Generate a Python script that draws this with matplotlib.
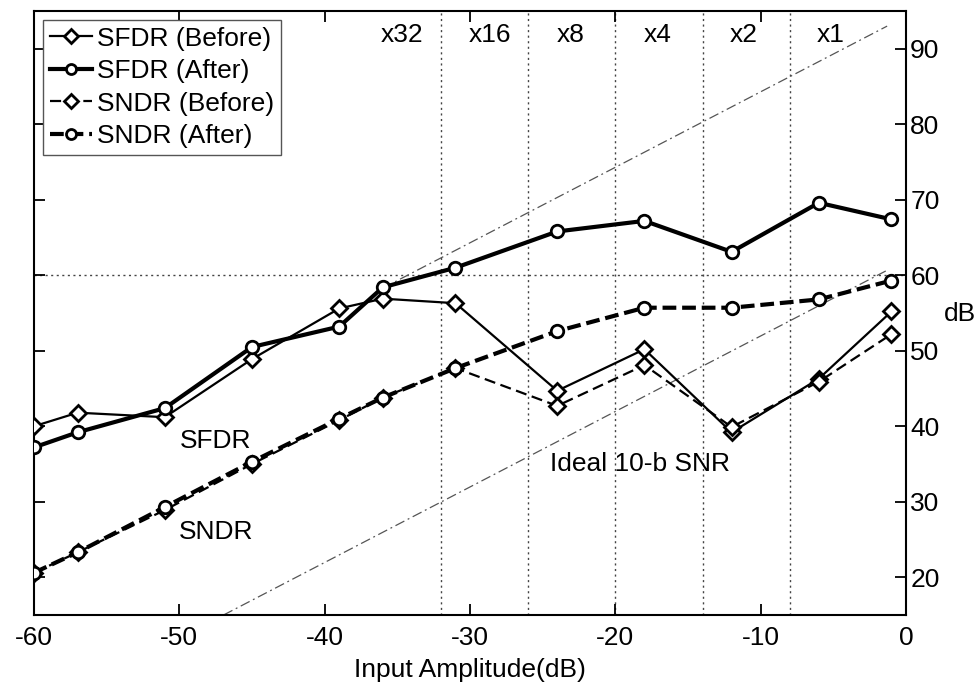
import matplotlib
matplotlib.use("Agg")
import matplotlib.pyplot as plt
import numpy as np

plt.rcParams['font.family'] = ['Liberation Sans', 'DejaVu Sans']
plt.rcParams['axes.unicode_minus'] = False

# Input amplitude sweep (dB)
amp = [-60, -57, -51, -45, -39, -36, -31, -24, -18, -12, -6, -1]

sfdr_before = [40.0, 41.8, 41.2, 48.9, 55.6, 56.9, 56.3, 44.7, 50.2, 39.2, 46.3, 55.2]
sfdr_after = [37.2, 39.2, 42.4, 50.5, 53.2, 58.4, 61.0, 65.8, 67.2, 63.1, 69.6, 67.4]
sndr_before = [20.6, 23.3, 28.9, 35.0, 40.8, 43.8, 47.7, 42.7, 48.1, 39.9, 45.9, 52.2]
sndr_after = [20.6, 23.3, 29.3, 35.3, 41.0, 43.8, 47.7, 52.6, 55.7, 55.7, 56.8, 59.3]

# Gain-range boundaries and labels
gain_edges = [-32, -26, -20, -14, -8]
gain_labels = ['x32', 'x16', 'x8', 'x4', 'x2', 'x1']
gain_label_x = [-34.7, -28.6, -23.1, -17.1, -11.2, -5.2]

# Reference lines: ideal 10-bit SNR (offset 61.96 dB) and upper bound
ideal_offset = 61.96
upper_offset = 94.3
ideal_x = [-46.96, -1.3]
upper_x = [-36.0, -1.3]

fig = plt.figure(figsize=(9.78, 6.88), dpi=100)
ax = fig.add_axes([0.0348, 0.1061, 0.9264 - 0.0348, 0.984 - 0.1061])

fs = 19

# guide lines
for gx in gain_edges:
    ax.axvline(gx, color='#444444', lw=1.0, ls=(0, (1.5, 2.5)), zorder=1)
ax.axhline(60, color='#444444', lw=1.0, ls=(0, (1.5, 2.5)), zorder=1)

ax.plot(ideal_x, [v + ideal_offset for v in ideal_x], color='#555555', lw=0.9,
        ls=(0, (8, 3, 1.5, 3)), zorder=1)
ax.plot(upper_x, [v + upper_offset for v in upper_x], color='#555555', lw=0.9,
        ls=(0, (8, 3, 1.5, 3)), zorder=1)

mk = dict(markerfacecolor='white', markeredgecolor='black', markeredgewidth=2.0)

ax.plot(amp, sfdr_before, color='black', lw=1.6, marker='D', ms=8.5,
        label='SFDR (Before)', zorder=3, **mk)
ax.plot(amp, sfdr_after, color='black', lw=3.0, marker='o', ms=9,
        label='SFDR (After)', zorder=4, **mk)
ax.plot(amp, sndr_before, color='black', lw=1.6, ls=(0, (5, 2.5)), marker='D', ms=8.5,
        label='SNDR (Before)', zorder=3, **mk)
ax.plot(amp, sndr_after, color='black', lw=3.0, ls=(0, (3.3, 1.4)), marker='o', ms=9,
        label='SNDR (After)', zorder=4, **mk)

for lx, lab in zip(gain_label_x, gain_labels):
    ax.text(lx, 91.8, lab, ha='center', va='center', fontsize=fs)

ax.text(-47.5, 38.0, 'SFDR', ha='center', va='center', fontsize=fs)
ax.text(-47.5, 26.0, 'SNDR', ha='center', va='center', fontsize=fs)
ax.text(-24.5, 35.0, 'Ideal 10-b SNR', ha='left', va='center', fontsize=fs)

ax.set_xlim(-60, 0)
ax.set_ylim(15, 95)
ax.set_xticks(np.arange(-60, 1, 10))
ax.set_yticks(np.arange(20, 91, 10))
ax.tick_params(axis='both', direction='in', length=8, width=1.3, labelsize=fs,
               top=True, right=True, left=True, bottom=True,
               labelleft=False, labelright=True)
ax.tick_params(axis='x', pad=8)
ax.tick_params(axis='y', pad=3)
for s in ax.spines.values():
    s.set_linewidth(1.5)

ax.set_xlabel('Input Amplitude(dB)', fontsize=fs, labelpad=6)
ax.yaxis.set_label_position('right')
ax.set_ylabel('dB', fontsize=fs, rotation=0, va='center', ha='center')
ax.yaxis.set_label_coords(1.062, (54.9 - 15) / 80)

leg = ax.legend(loc='upper left', bbox_to_anchor=(0.0103, 0.985), fontsize=fs,
                handlelength=1.6, handletextpad=0.2, borderpad=0.25,
                labelspacing=0.32, borderaxespad=0.0, fancybox=False,
                framealpha=1, edgecolor='#555555', markerscale=0.8)
leg.get_frame().set_linewidth(1.0)

fig.savefig('out.png', dpi=100)
